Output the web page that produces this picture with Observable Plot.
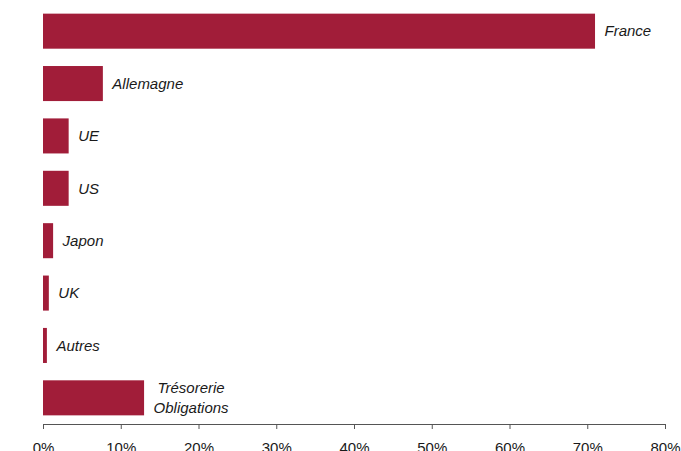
<!DOCTYPE html>
<html>
<head>
<meta charset="utf-8">
<script src="https://cdn.jsdelivr.net/npm/d3@7"></script>
<script src="https://cdn.jsdelivr.net/npm/@observablehq/plot@0.6"></script>
<style>
  html, body { margin: 0; padding: 0; background: #fff; }
  #chart svg { display: block; font-family: "Liberation Sans", Arial, sans-serif; }
</style>
</head>
<body>
<div id="chart"></div>
<script>
const categories = ["France", "Allemagne", "UE", "US", "Japon", "UK", "Autres", "Trésorerie\nObligations"];
const values = [71.0, 7.7, 3.3, 3.3, 1.3, 0.75, 0.5, 13.0];
const xTicks = [0, 10, 20, 30, 40, 50, 60, 70, 80];

const data = categories.map((c, i) => ({category: c, value: values[i]}));
const single = data.filter(d => !d.category.includes("\n"));
const multi = data.filter(d => d.category.includes("\n"));

const barColor = "#A11D39";

const chart = Plot.plot({
  width: 681,
  height: 451,
  marginLeft: 43,
  marginRight: 16,
  marginTop: 5,
  marginBottom: 27,
  style: {fontFamily: '"Liberation Sans", Arial, sans-serif', background: "#fff"},
  x: {domain: [0, 80], ticks: xTicks, tickFormat: d => d + "%"},
  y: {domain: categories, paddingInner: 0.331, paddingOuter: 0.165, round: false, axis: null},
  marks: [
    Plot.barX(data, {x: "value", y: "category", fill: barColor}),
    Plot.text(single, {x: "value", y: "category", text: "category", textAnchor: "start", dx: 9,
      fontStyle: "italic", fontSize: 15, fill: "#1a1a1a"}),
    Plot.text(multi, {x: "value", y: "category", text: "category", textAnchor: "middle", dx: 46.5, dy: -2,
      lineHeight: 1.333, fontStyle: "italic", fontSize: 15, fill: "#1a1a1a"}),
    Plot.frame({anchor: "bottom", stroke: "#555"}),
    Plot.axisX({ticks: xTicks, tickFormat: d => d + "%", tickSize: 5, tickPadding: 13,
      fontSize: 15, stroke: "#555", color: "#1a1a1a", label: null})
  ]
});
document.getElementById("chart").appendChild(chart);
</script>
</body>
</html>
